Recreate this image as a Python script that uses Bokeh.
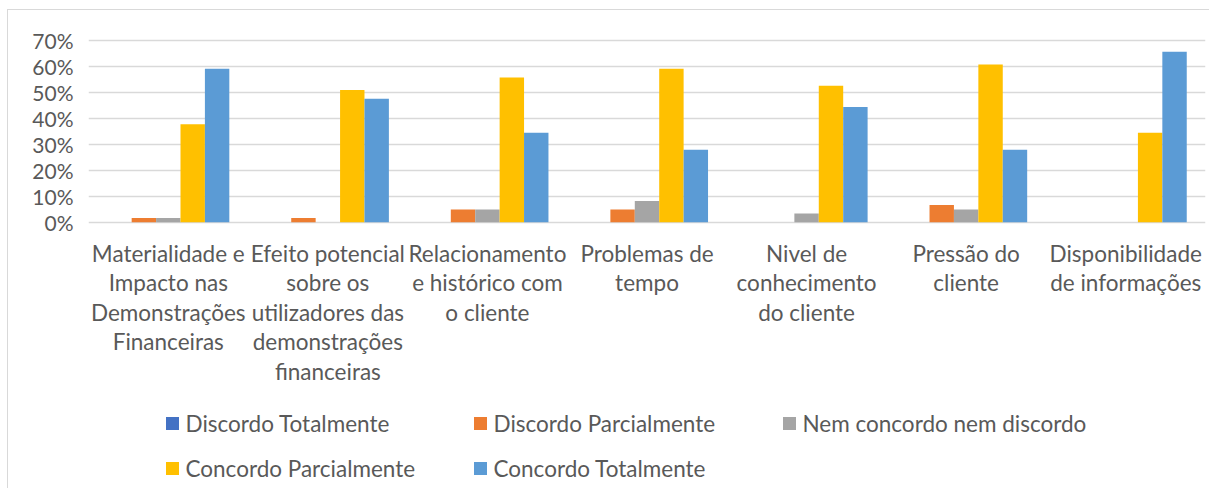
from bokeh.plotting import figure
from bokeh.models import Range1d, FixedTicker, NumeralTickFormatter, ColumnDataSource
from bokeh.core.properties import value
from bokeh.embed import file_html
from bokeh.resources import INLINE

# ---- data ----
categories = [
    ["Materialidade e", "Impacto nas", "Demonstrações", "Financeiras"],
    ["Efeito potencial", "sobre os", "utilizadores das", "demonstrações", "financeiras"],
    ["Relacionamento", "e histórico com", "o cliente"],
    ["Problemas de", "tempo"],
    ["Nivel de", "conhecimento", "do cliente"],
    ["Pressão do", "cliente"],
    ["Disponibilidade", "de informações"],
]
series_names = ["Discordo Totalmente", "Discordo Parcialmente", "Nem concordo nem discordo",
                "Concordo Parcialmente", "Concordo Totalmente"]
discordo_totalmente = [0.0, 0.0, 0.0, 0.0, 0.0, 0.0, 0.0]
discordo_parcialmente = [0.016, 0.016, 0.049, 0.049, 0.0, 0.066, 0.0]
nem_concordo = [0.016, 0.0, 0.049, 0.082, 0.033, 0.049, 0.0]
concordo_parcialmente = [0.377, 0.508, 0.557, 0.590, 0.525, 0.607, 0.344]
concordo_totalmente = [0.590, 0.475, 0.344, 0.279, 0.443, 0.279, 0.656]
y_ticks = [0, 0.1, 0.2, 0.3, 0.4, 0.5, 0.6, 0.7]

series_values = [discordo_totalmente, discordo_parcialmente, nem_concordo,
                 concordo_parcialmente, concordo_totalmente]
colors = ["#4472C4", "#ED7D31", "#A5A5A5", "#FFC000", "#5B9BD5"]

TEXT = "#595959"
FONT = "Lato"

MX, MY = 7, 9
W, H = 1209 - MX, 488 - MY
top_b, left_b, right_b = 17 - MY, 87 - MX, 5
frame_h = H - top_b
px_per_unit = 260.0
zero_px = 203.7  # from frame top
y_end = zero_px / px_per_unit
y_start = -(frame_h - zero_px) / px_per_unit
n = len(categories)

p = figure(width=W, height=H, output_backend="svg", toolbar_location=None,
           x_range=Range1d(0, n), y_range=Range1d(y_start, y_end),
           min_border_top=top_b, min_border_left=left_b, min_border_right=right_b,
           min_border_bottom=0)
p.margin = (MY, 0, 0, MX)
p.styles = {"border-left": "1px solid #D9D9D9", "border-top": "1px solid #D9D9D9"}
p.outline_line_color = None
p.background_fill_color = "white"
p.border_fill_color = "white"

p.xaxis.visible = False
p.xgrid.visible = False
ya = p.yaxis[0]
ya.ticker = FixedTicker(ticks=y_ticks)
ya.formatter = NumeralTickFormatter(format="0%")
ya.axis_line_color = None
ya.major_tick_line_color = None
ya.minor_tick_line_color = None
ya.major_tick_in = 0
ya.major_tick_out = 0
ya.major_label_standoff = 15
ya.major_label_text_font = FONT
ya.major_label_text_font_size = "21px"
ya.major_label_text_color = TEXT
p.ygrid.ticker = FixedTicker(ticks=y_ticks)
p.ygrid.grid_line_color = "#D9D9D9"
p.ygrid.grid_line_width = 1.5

# bars
bw = 0.153
for k, (vals, col) in enumerate(zip(series_values, colors)):
    off = (k - 2) * bw
    src = ColumnDataSource(dict(x=[i + 0.5 + off for i in range(n)], top=vals))
    p.vbar(x="x", top="top", bottom=0, width=bw, source=src, fill_color=col,
           line_color=None)

# category labels
line_gap = 29.4 / px_per_unit
first = -31.3 / px_per_unit
lx, ly, lt = [], [], []
for i, lines in enumerate(categories):
    for j, t in enumerate(lines):
        lx.append(i + 0.5)
        ly.append(first - j * line_gap)
        lt.append(t)
p.text(x="x", y="y", text="t", source=ColumnDataSource(dict(x=lx, y=ly, t=lt)),
       text_align="center", text_baseline="middle", text_font=value(FONT),
       text_font_size="22.5px", text_color=TEXT)

# legend
ppx = (W - left_b - right_b) / n
leg_rows = [-(415 - 213.7) / px_per_unit, -(460 - 213.7) / px_per_unit]
col_px = [171 - MX, 479 - MX, 788 - MX]
pos = [(0, 0), (1, 0), (2, 0), (0, 1), (1, 1)]
sx, sy, tx = [], [], []
for (c, r) in pos:
    sx.append((col_px[c] - left_b) / ppx)
    sy.append(leg_rows[r])
    tx.append((col_px[c] + 13 - left_b) / ppx)
p.scatter(x=sx, y=sy, marker="square", size=13, fill_color=colors, line_color=None)
p.text(x=tx, y=sy, text=series_names, text_align="left", text_baseline="middle",
       text_font=value(FONT), text_font_size="22.5px", text_color=TEXT)

open("out.html", "w").write(file_html(p, INLINE))
